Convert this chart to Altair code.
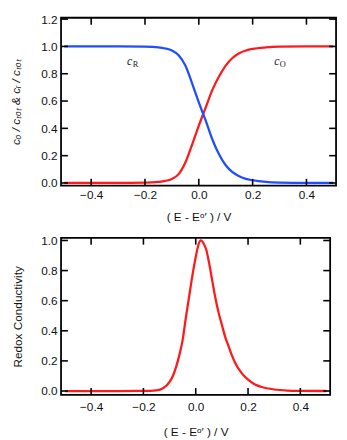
import altair as alt
import pandas as pd

# ---- data ----
x_top = [-0.5, -0.3, -0.2, -0.15, -0.125, -0.1, -0.075, -0.05, -0.025, 0.0, 0.025,
         0.05, 0.075, 0.1, 0.125, 0.15, 0.175, 0.2, 0.25, 0.3, 0.4, 0.5]
c_O = [0.0, 0.0, 0.002, 0.008, 0.015, 0.03, 0.065, 0.15, 0.28, 0.42, 0.55,
       0.68, 0.78, 0.86, 0.915, 0.95, 0.97, 0.982, 0.993, 0.998, 1.0, 1.0]
c_R = [1.0, 1.0, 0.998, 0.993, 0.985, 0.97, 0.935, 0.86, 0.73, 0.59, 0.46,
       0.32, 0.21, 0.13, 0.08, 0.05, 0.03, 0.02, 0.008, 0.003, 0.0, 0.0]

x_bot = [-0.5, -0.3, -0.2, -0.15, -0.125, -0.1, -0.0875, -0.075, -0.0625, -0.05,
         -0.0375, -0.025, -0.0125, 0.0, 0.01, 0.02, 0.03, 0.04, 0.05, 0.0625,
         0.075, 0.0875, 0.1, 0.1125, 0.125, 0.1375, 0.15, 0.175, 0.2, 0.225,
         0.25, 0.3, 0.35, 0.4, 0.5]
cond = [0.0, 0.0, 0.001, 0.005, 0.018, 0.06, 0.10, 0.16, 0.24, 0.34,
        0.49, 0.63, 0.77, 0.89, 0.97, 1.0, 0.98, 0.94, 0.86, 0.74,
        0.62, 0.52, 0.44, 0.36, 0.30, 0.24, 0.19, 0.12, 0.075, 0.045,
        0.028, 0.01, 0.003, 0.001, 0.0]

x_ticks = [-0.4, -0.2, 0.0, 0.2, 0.4]
y_ticks_top = [0.0, 0.2, 0.4, 0.6, 0.8, 1.0, 1.2]
y_ticks_bot = [0.0, 0.2, 0.4, 0.6, 0.8, 1.0]

labels = ["c", "c"]
label_subs = ["R", "O"]
label_x = [-0.257, 0.29]
label_y = [0.89, 0.895]

RED = "#ff1a1a"
BLUE = "#1f4dff"
FONT = "Liberation Sans"
X_TITLE = "( E - Eᵒ′ ) / V"
TL = 7  # inner tick length


def tick_layers(xs, ys, xaxis, yaxis, xt, yt, w, h):
    xdf = pd.DataFrame({"x": xt})
    ydf = pd.DataFrame({"y": yt})
    base_x = alt.Chart(xdf).mark_rule(color="black", strokeWidth=1.6)
    base_y = alt.Chart(ydf).mark_rule(color="black", strokeWidth=1.6)
    X = alt.X("x:Q", scale=xs, axis=xaxis)
    Y = alt.Y("y:Q", scale=ys, axis=yaxis)
    return [
        base_x.encode(x=X, y=alt.value(h), y2=alt.value(h - TL)),
        base_x.encode(x=X, y=alt.value(0), y2=alt.value(TL)),
        base_y.encode(y=Y, x=alt.value(0), x2=alt.value(TL)),
        base_y.encode(y=Y, x=alt.value(w - TL), x2=alt.value(w)),
    ]


# ---------- top panel ----------
W1, H1 = 280, 171
xs1 = alt.Scale(domain=[-0.512, 0.51], nice=False, zero=False)
ys1 = alt.Scale(domain=[-0.02, 1.21], nice=False, zero=False)
xaxis1 = alt.Axis(values=x_ticks, format=".1f", title=X_TITLE, labelPadding=4,
                  titlePadding=11)
yaxis1 = alt.Axis(values=y_ticks_top, format=".1f",
                  title="cₒ / cₜₒₜ   &   cᵣ / cₜₒₜ", titleFontStyle="italic",
                  labelPadding=4, titlePadding=19)

df_top = pd.DataFrame({"x": x_top * 2, "y": c_O + c_R,
                       "s": ["O"] * len(x_top) + ["R"] * len(x_top)})
lines_top = alt.Chart(df_top).mark_line(strokeWidth=2.3, interpolate="monotone").encode(
    x=alt.X("x:Q", scale=xs1, axis=xaxis1),
    y=alt.Y("y:Q", scale=ys1, axis=yaxis1),
    color=alt.Color("s:N", scale=alt.Scale(domain=["O", "R"], range=[RED, BLUE]), legend=None),
)
lab_df = pd.DataFrame({"x": label_x, "y": label_y, "t": labels, "sub": label_subs})
lab_c = alt.Chart(lab_df).mark_text(font="Liberation Serif", fontStyle="italic",
                                    fontSize=12, color="#222").encode(
    x=alt.X("x:Q", scale=xs1, axis=xaxis1), y=alt.Y("y:Q", scale=ys1, axis=yaxis1), text="t:N")
lab_s = alt.Chart(lab_df).mark_text(font="Liberation Serif", fontSize=8.5, dx=6, dy=3,
                                    color="#222").encode(
    x=alt.X("x:Q", scale=xs1, axis=xaxis1), y=alt.Y("y:Q", scale=ys1, axis=yaxis1), text="sub:N")

top = alt.layer(lines_top, lab_c, lab_s,
                *tick_layers(xs1, ys1, xaxis1, yaxis1, x_ticks, y_ticks_top, W1, H1)
                ).properties(width=W1, height=H1)

# ---------- bottom panel ----------
W2, H2 = 274, 160
xs2 = alt.Scale(domain=[-0.515, 0.514], nice=False, zero=False)
ys2 = alt.Scale(domain=[-0.026, 1.018], nice=False, zero=False)
xaxis2 = alt.Axis(values=x_ticks, format=".1f", title=X_TITLE, labelPadding=7,
                  titlePadding=14)
yaxis2 = alt.Axis(values=y_ticks_bot, format=".1f", title="Redox Conductivity",
                  labelPadding=4, titlePadding=17)

df_bot = pd.DataFrame({"x": x_bot, "y": cond})
line_bot = alt.Chart(df_bot).mark_line(strokeWidth=2.3, color=RED, interpolate="monotone").encode(
    x=alt.X("x:Q", scale=xs2, axis=xaxis2),
    y=alt.Y("y:Q", scale=ys2, axis=yaxis2),
)
bottom = alt.layer(line_bot,
                   *tick_layers(xs2, ys2, xaxis2, yaxis2, x_ticks, y_ticks_bot, W2, H2)
                   ).properties(width=W2, height=H2)

chart = alt.vconcat(top, bottom, spacing=10).properties(
    padding={"left": 0, "top": 0, "right": 0, "bottom": 0}
).configure_view(stroke="black", strokeWidth=1.8).configure_axis(
    ticks=False, domain=False, grid=False,
    labelFont=FONT, labelFontSize=12, labelColor="#111",
    titleFont=FONT, titleFontSize=12, titleFontWeight="normal", titleColor="#111",
).configure_concat(spacing=10)

chart.save("out.html", embed_options={"renderer": "svg", "actions": False})
